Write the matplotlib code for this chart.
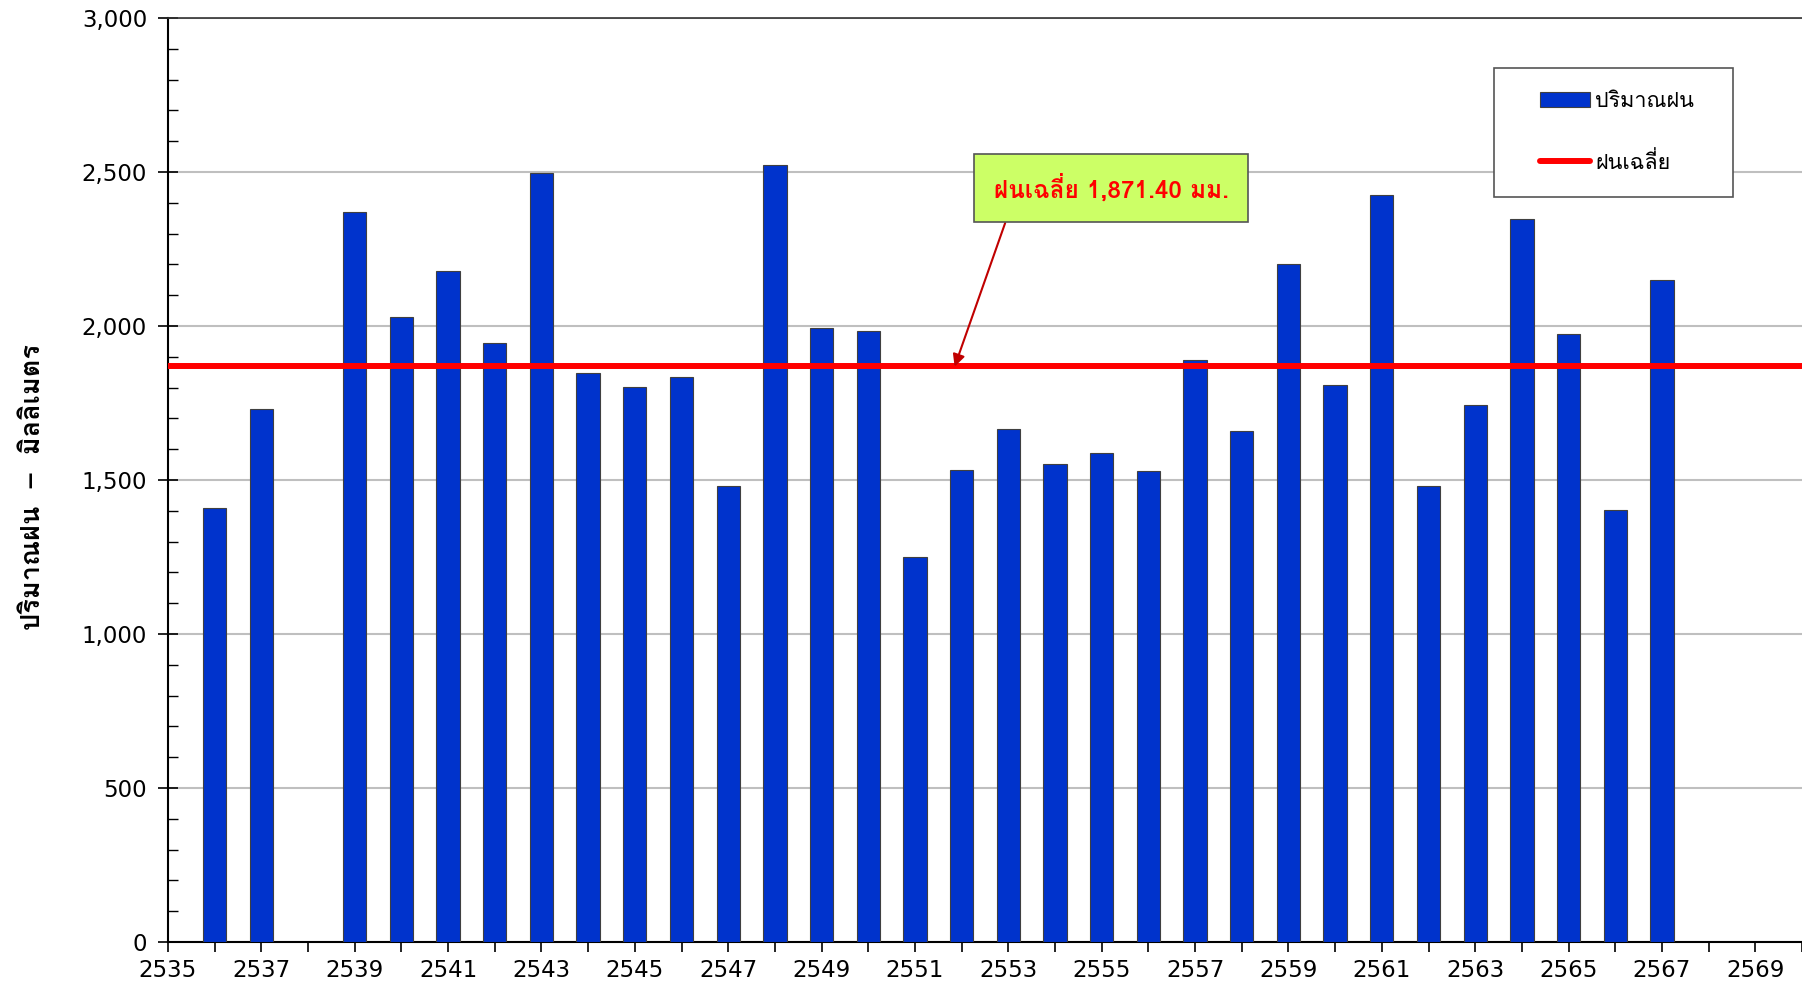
import matplotlib
matplotlib.use('Agg')
import matplotlib.pyplot as plt
from matplotlib import font_manager
from matplotlib.ft2font import FT2Font
from matplotlib.ticker import MultipleLocator, FuncFormatter
from matplotlib.patches import Patch, Rectangle
from matplotlib.lines import Line2D

# rainfall data (Thai Buddhist years)
years = [2536, 2537, 2539, 2540, 2541, 2542, 2543, 2544, 2545, 2546, 2547, 2548,
         2549, 2550, 2551, 2552, 2553, 2554, 2555, 2556, 2557, 2558, 2559, 2560,
         2561, 2562, 2563, 2564, 2565, 2566, 2567]
rain = [1410, 1731, 2369, 2030, 2179, 1944, 2496, 1847, 1802, 1836, 1481, 2522,
        1992, 1985, 1250, 1533, 1664, 1552, 1589, 1530, 1888, 1660, 2201, 1810,
        2425, 1481, 1742, 2347, 1974, 1403, 2149]
avg_rain = 1871.40
year_ticks = list(range(2535, 2571))
year_labels = [str(y) if (y - 2535) % 2 == 0 else '' for y in year_ticks]


def find_thai_font():
    for f in font_manager.fontManager.ttflist:
        try:
            if 0x0E1D in FT2Font(f.fname).get_charmap():
                return f.name
        except Exception:
            pass
    return 'DejaVu Sans'


thai = find_thai_font()
plt.rcParams['font.family'] = ['DejaVu Sans', thai]
thai_fam = [thai, 'DejaVu Sans']

fig = plt.figure(figsize=(18.02, 9.82), dpi=100)
ax = fig.add_axes([0.0932, 0.0407, 0.9068, 0.941])

ax.bar(years, rain, width=0.5, color='#0033CC', edgecolor='#404040',
       linewidth=0.8, zorder=3)
ax.axhline(avg_rain, color='#FF0000', lw=4.3, zorder=4)

ax.set_xlim(2535, 2570)
ax.set_ylim(0, 3000)
ax.yaxis.set_major_locator(MultipleLocator(500))
ax.yaxis.set_minor_locator(MultipleLocator(100))
ax.yaxis.set_major_formatter(FuncFormatter(lambda v, p: f'{v:,.0f}'))
ax.set_xticks(year_ticks)
ax.set_xticklabels(year_labels)
ax.grid(axis='y', which='major', color='#BFBFBF', lw=1.5, zorder=0)

ax.tick_params(axis='y', which='major', direction='inout', length=14,
               width=1.2, labelsize=16.5, pad=8)
ax.tick_params(axis='y', which='minor', direction='in', length=7, width=1.0)
ax.tick_params(axis='x', direction='out', length=7, width=1.2,
               labelsize=16.5, pad=5)
for s in ['left', 'bottom']:
    ax.spines[s].set_linewidth(1.5)
ax.spines['top'].set_linewidth(1.2)
ax.spines['top'].set_color('#333333')
ax.spines['right'].set_visible(False)

# y axis title
fig.text(33 / 1802, 1 - 487 / 982, 'ปริมาณฝน  \u2013  มิลลิเมตร', family=thai_fam,
         fontsize=19.5, fontweight='bold', rotation=90, ha='center', va='center')

ax.annotate('ฝนเฉลี่ย 1,871.40 มม.', xy=(2551.85, 1868),
            xytext=(2555.2, 2447), ha='center', va='center',
            family=thai_fam, fontsize=17.5, fontweight='bold', color='#FF0000',
            bbox=dict(boxstyle='square,pad=0.82', fc='#CCFF66', ec='#555555', lw=1.2),
            arrowprops=dict(arrowstyle='-|>', color='#C00000', lw=1.5,
                            mutation_scale=18, relpos=(0.08, 0), shrinkA=0, shrinkB=0),
            zorder=6)

# legend with a hand-placed frame
ax.add_patch(Rectangle((0.8115, 0.8063), 0.1463, 0.1396, transform=ax.transAxes,
                       fc='white', ec='#555555', lw=1.2, zorder=7))
handles = [Patch(facecolor='#0033CC', edgecolor='#404040', lw=0.8),
           Line2D([], [], color='#FF0000', lw=4.3, solid_capstyle='round')]
leg = ax.legend(handles, ['ปริมาณฝน', 'ฝนเฉลี่ย'], loc='upper left',
                bbox_to_anchor=(0.8397, 0.921), prop={'family': thai_fam, 'size': 15.5},
                frameon=False, borderpad=0, labelspacing=1.85, handlelength=2.3,
                handletextpad=0.27, borderaxespad=0)
leg.set_zorder(8)

fig.savefig('out.png', dpi=100)
